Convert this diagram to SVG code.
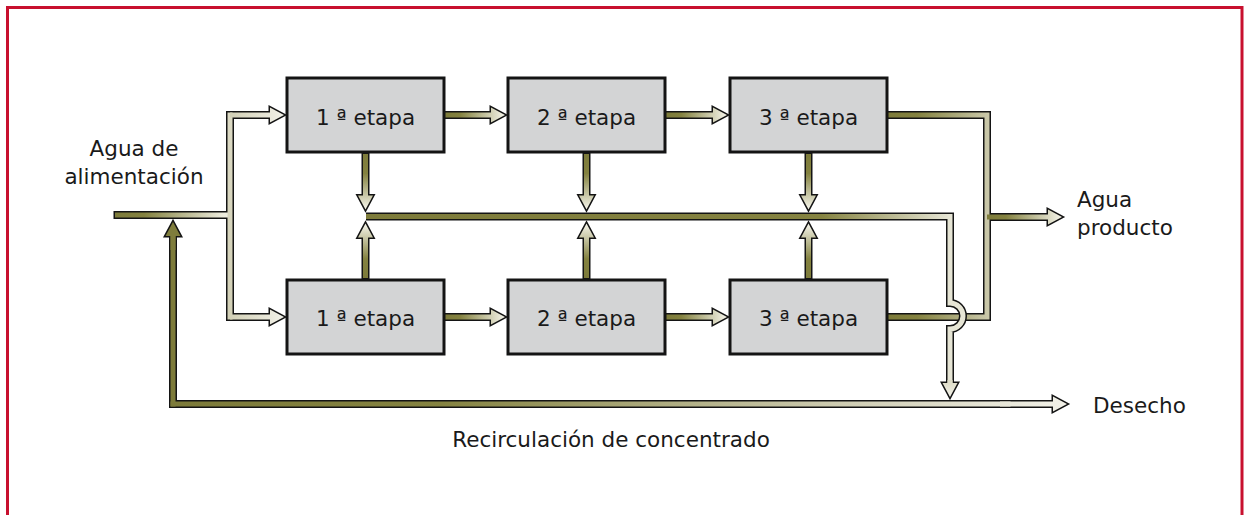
<svg xmlns="http://www.w3.org/2000/svg" width="1246" height="515" viewBox="0 0 1246 515">
<style>
.o{fill:#141414;stroke:#141414;stroke-width:3;stroke-linejoin:miter}
.po{fill:none;stroke:#141414;stroke-width:8;stroke-linejoin:miter}
.pf{fill:none;stroke-width:5;stroke-linejoin:miter}
.box{fill:#d3d4d5;stroke:#141414;stroke-width:3}
.t{font-family:"DejaVu Sans","Liberation Sans",sans-serif;font-size:21.5px;fill:#1a1a1a}
.m{text-anchor:middle}
</style>
<defs>
<linearGradient id="gH" x1="0" y1="0" x2="1" y2="0"><stop offset="0" stop-color="#7d7b3a"/><stop offset="0.25" stop-color="#848240"/><stop offset="0.95" stop-color="#eeeddf"/></linearGradient>
<linearGradient id="gLt" x1="0" y1="0" x2="1" y2="0"><stop offset="0" stop-color="#d2d0b6"/><stop offset="1" stop-color="#f2f1e8"/></linearGradient>
<linearGradient id="gLv" x1="0" y1="0" x2="0" y2="1"><stop offset="0" stop-color="#dcdac4"/><stop offset="1" stop-color="#d2d0b6"/></linearGradient>
<linearGradient id="gD" x1="0" y1="0" x2="0" y2="1"><stop offset="0" stop-color="#7d7b3a"/><stop offset="0.35" stop-color="#848240"/><stop offset="0.95" stop-color="#eeeddf"/></linearGradient>
<linearGradient id="gU" x1="0" y1="1" x2="0" y2="0"><stop offset="0" stop-color="#7d7b3a"/><stop offset="0.35" stop-color="#848240"/><stop offset="0.95" stop-color="#eeeddf"/></linearGradient>
<linearGradient id="gDl" x1="0" y1="0" x2="0" y2="1"><stop offset="0" stop-color="#dcdac4"/><stop offset="1" stop-color="#f2f1e8"/></linearGradient>
<linearGradient id="gOut" gradientUnits="userSpaceOnUse" x1="887" y1="0" x2="987" y2="0"><stop offset="0" stop-color="#7d7b3a"/><stop offset="0.3" stop-color="#848240"/><stop offset="1" stop-color="#c9c7a8"/></linearGradient>
<linearGradient id="gCol" gradientUnits="userSpaceOnUse" x1="365" y1="0" x2="950" y2="0"><stop offset="0" stop-color="#7d7b3a"/><stop offset="0.78" stop-color="#858341"/><stop offset="1" stop-color="#e6e5d5"/></linearGradient>
<linearGradient id="gRec" gradientUnits="userSpaceOnUse" x1="173" y1="0" x2="1067" y2="0"><stop offset="0" stop-color="#7d7b3a"/><stop offset="0.3" stop-color="#858341"/><stop offset="0.75" stop-color="#cfcdb3"/><stop offset="1" stop-color="#f2f1e8"/></linearGradient>
</defs>
<rect x="7.5" y="7.5" width="1234.5" height="520" fill="#ffffff" stroke="#c8102e" stroke-width="3"/>
<g id="connectors">
 <g id="feed">
  <rect class="o" x="115" y="212.5" width="115" height="5"/>
  <rect class="o" x="227.5" y="112.5" width="5" height="207"/>
  <polygon class="o" points="230,112.5 270,112.5 270,107.5 284,115 270,122.5 270,117.5 230,117.5"/>
  <polygon class="o" points="230,314.5 270,314.5 270,309.5 284,317 270,324.5 270,319.5 230,319.5"/>
  <rect x="115" y="212.5" width="115" height="5" fill="url(#gH)"/>
  <rect x="227.5" y="112.5" width="5" height="207" fill="url(#gLv)"/>
  <polygon points="230,112.5 270,112.5 270,107.5 284,115 270,122.5 270,117.5 230,117.5" fill="url(#gLt)"/>
  <polygon points="230,314.5 270,314.5 270,309.5 284,317 270,324.5 270,319.5 230,319.5" fill="url(#gLt)"/>
 </g>
 <g id="stage-arrows">
  <polygon class="o" points="445,112.5 491,112.5 491,107.5 505,115 491,122.5 491,117.5 445,117.5"/>
  <polygon class="o" points="666,112.5 713,112.5 713,107.5 727,115 713,122.5 713,117.5 666,117.5"/>
  <polygon class="o" points="445,314.5 491,314.5 491,309.5 505,317 491,324.5 491,319.5 445,319.5"/>
  <polygon class="o" points="666,314.5 713,314.5 713,309.5 727,317 713,324.5 713,319.5 666,319.5"/>
  <polygon fill="url(#gH)" points="445,112.5 491,112.5 491,107.5 505,115 491,122.5 491,117.5 445,117.5"/>
  <polygon fill="url(#gH)" points="666,112.5 713,112.5 713,107.5 727,115 713,122.5 713,117.5 666,117.5"/>
  <polygon fill="url(#gH)" points="445,314.5 491,314.5 491,309.5 505,317 491,324.5 491,319.5 445,319.5"/>
  <polygon fill="url(#gH)" points="666,314.5 713,314.5 713,309.5 727,317 713,324.5 713,319.5 666,319.5"/>
 </g>
 <g id="recirculation">
  <rect class="o" x="170.5" y="232" width="5" height="174.5"/>
  <rect class="o" x="170.5" y="401.5" width="840" height="5"/>
  <polygon class="o" points="170.5,250 170.5,236 165.5,236 173,222 180.5,236 175.5,236 175.5,250"/>
  <polygon class="o" points="1000,401.5 1053,401.5 1053,396.5 1067,404 1053,411.5 1053,406.5 1000,406.5"/>
  <rect x="170.5" y="232" width="5" height="174.5" fill="#7d7b3a"/>
  <rect x="170.5" y="401.5" width="840" height="5" fill="url(#gRec)"/>
  <polygon points="170.5,250 170.5,236 165.5,236 173,222 180.5,236 175.5,236 175.5,250" fill="#7f7d3c"/>
  <polygon points="1000,401.5 1053,401.5 1053,396.5 1067,404 1053,411.5 1053,406.5 1000,406.5" fill="url(#gRec)"/>
 </g>
 <g id="box-arrows">
  <polygon class="o" points="363,154 363,195.5 358,195.5 365.5,209.5 373,195.5 368,195.5 368,154"/>
  <polygon class="o" points="584,154 584,195.5 579,195.5 586.5,209.5 594,195.5 589,195.5 589,154"/>
  <polygon class="o" points="806,154 806,195.5 801,195.5 808.5,209.5 816,195.5 811,195.5 811,154"/>
  <polygon class="o" points="363,278 363,237.5 358,237.5 365.5,223.5 373,237.5 368,237.5 368,278"/>
  <polygon class="o" points="584,278 584,237.5 579,237.5 586.5,223.5 594,237.5 589,237.5 589,278"/>
  <polygon class="o" points="806,278 806,237.5 801,237.5 808.5,223.5 816,237.5 811,237.5 811,278"/>
  <polygon fill="url(#gD)" points="363,154 363,195.5 358,195.5 365.5,209.5 373,195.5 368,195.5 368,154"/>
  <polygon fill="url(#gD)" points="584,154 584,195.5 579,195.5 586.5,209.5 594,195.5 589,195.5 589,154"/>
  <polygon fill="url(#gD)" points="806,154 806,195.5 801,195.5 808.5,209.5 816,195.5 811,195.5 811,154"/>
  <polygon fill="url(#gU)" points="363,278 363,237.5 358,237.5 365.5,223.5 373,237.5 368,237.5 368,278"/>
  <polygon fill="url(#gU)" points="584,278 584,237.5 579,237.5 586.5,223.5 594,237.5 589,237.5 589,278"/>
  <polygon fill="url(#gU)" points="806,278 806,237.5 801,237.5 808.5,223.5 816,237.5 811,237.5 811,278"/>
 </g>
 <g id="product">
  <path class="po" d="M880 115H987V317H880"/>
  <polygon class="o" points="987,214.5 1048,214.5 1048,209.5 1062,217 1048,224.5 1048,219.5 987,219.5"/>
  <path class="pf" stroke="url(#gOut)" d="M880 115H987V317H880"/>
  <polygon fill="url(#gH)" points="987,214.5 1048,214.5 1048,209.5 1062,217 1048,224.5 1048,219.5 987,219.5"/>
 </g>
 <g id="collection">
  <path class="po" d="M366 216.5H950V303A13 13 0 0 1 950 329V385"/>
  <polygon class="o" points="947.5,380 947.5,383 942.5,383 950,397 957.5,383 952.5,383 952.5,380"/>
  <path class="pf" stroke="url(#gCol)" d="M366 216.5H950V303A13 13 0 0 1 950 329V385"/>
  <polygon fill="url(#gDl)" points="947.5,380 947.5,383 942.5,383 950,397 957.5,383 952.5,383 952.5,380"/>
 </g>
</g>
<g id="stage-1-top" class="node"><rect class="box" x="287" y="78" width="157" height="74"/><text class="t m" x="365.5" y="125">1 ª etapa</text></g>
<g id="stage-2-top" class="node"><rect class="box" x="508" y="78" width="157" height="74"/><text class="t m" x="586.5" y="125">2 ª etapa</text></g>
<g id="stage-3-top" class="node"><rect class="box" x="730" y="78" width="157" height="74"/><text class="t m" x="808.5" y="125">3 ª etapa</text></g>
<g id="stage-1-bottom" class="node"><rect class="box" x="287" y="280" width="157" height="74"/><text class="t m" x="365.5" y="326">1 ª etapa</text></g>
<g id="stage-2-bottom" class="node"><rect class="box" x="508" y="280" width="157" height="74"/><text class="t m" x="586.5" y="326">2 ª etapa</text></g>
<g id="stage-3-bottom" class="node"><rect class="box" x="730" y="280" width="157" height="74"/><text class="t m" x="808.5" y="326">3 ª etapa</text></g>
<g id="labels">
 <text class="t m" x="134" y="156">Agua de</text>
 <text class="t m" x="134" y="184">alimentación</text>
 <text class="t" x="1077" y="207">Agua</text>
 <text class="t" x="1077" y="235">producto</text>
 <text class="t" x="1093" y="413">Desecho</text>
 <text class="t m" x="611" y="447">Recirculación de concentrado</text>
</g>
</svg>
